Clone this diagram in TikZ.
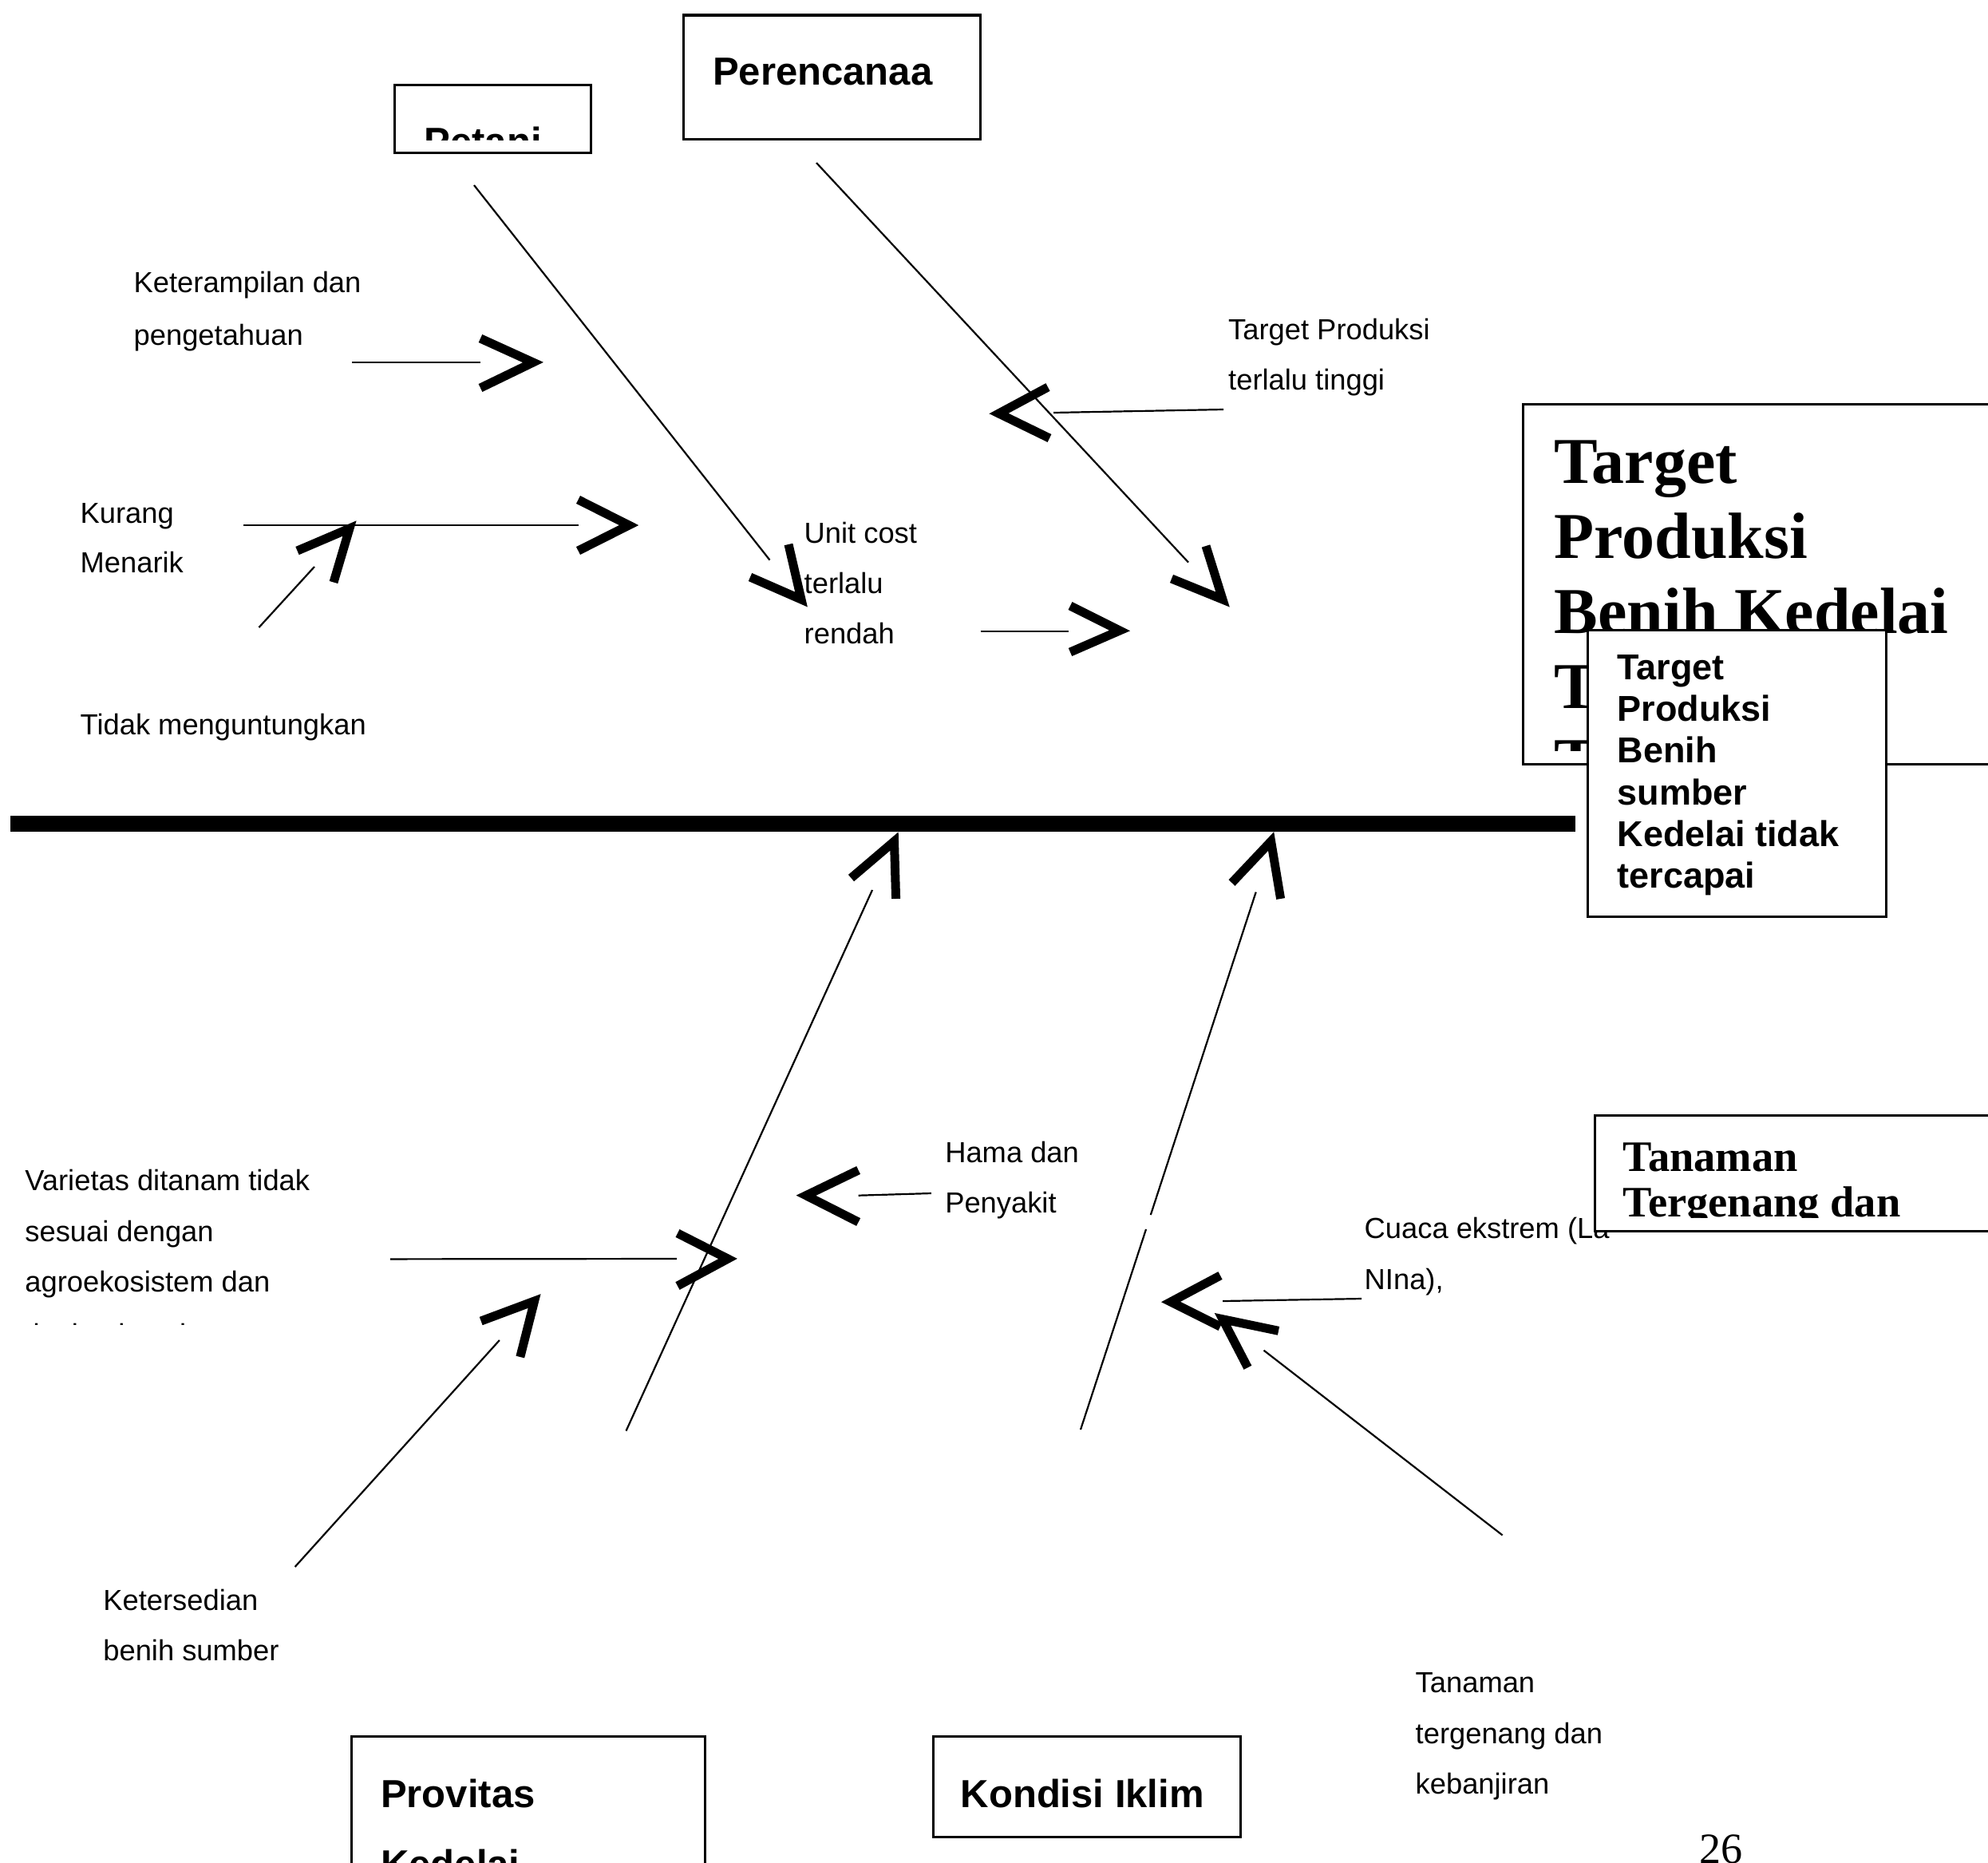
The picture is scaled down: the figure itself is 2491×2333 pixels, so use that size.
\documentclass[tikz,border=0pt]{standalone}
\usepackage{fontspec}
\setmainfont{Liberation Sans}
\newfontfamily\tnr{Liberation Serif}
\begin{document}
\begin{tikzpicture}[x=0.01cm, y=-0.01cm,
  boneline/.style={line width=0.022cm},
  barb/.style={line width=0.11cm, line join=miter, line cap=butt},
  spine/.style={line width=0.2cm},
  box/.style={draw, line width=0.03cm, fill=white, inner sep=0pt, outer sep=0pt, anchor=north west},
  lbl/.style={anchor=base west, inner sep=0pt, font=\fontsize{10.33pt}{12pt}\selectfont},
  ttl/.style={anchor=base west, inner sep=0pt, font=\bfseries\fontsize{13.94pt}{16pt}\selectfont},
  smallttl/.style={anchor=base west, inner sep=0pt, font=\bfseries\fontsize{12.8pt}{15pt}\selectfont},
  bigttl/.style={anchor=base west, inner sep=0pt, font=\tnr\bfseries\fontsize{23.3pt}{27pt}\selectfont},
  tanttl/.style={anchor=base west, inner sep=0pt, font=\tnr\bfseries\fontsize{15.5pt}{18pt}\selectfont},
  pagenum/.style={anchor=base west, inner sep=0pt, font=\tnr\fontsize{15.4pt}{18pt}\selectfont}
]
\useasboundingbox (0,0) rectangle (2491,2333);

% ---------- effect boxes ----------
\node[box, minimum width=6.2cm, minimum height=4.505cm] (bigBox) at (1908,506.5) {};
\begin{scope}
  \clip (1910,508) rectangle (2489,940);
  \node[bigttl] (big1) at (1947,605) {Target};
  \node[bigttl] (big2) at (1947,699) {Produksi};
  \node[bigttl] (big3) at (1947,793) {Benih Kedelai};
  \node[bigttl] (big4) at (1947,887) {Tidak};
  \node[bigttl] (big5) at (1947,981) {Tercapai};
\end{scope}
\node[box, minimum width=3.74cm, minimum height=3.59cm] (headBox) at (1989,789) {};
\node[smallttl] (h1) at (2026,851) {Target};
\node[smallttl] (h2) at (2026,903) {Produksi};
\node[smallttl] (h3) at (2026,955) {Benih};
\node[smallttl] (h4) at (2026,1008) {sumber};
\node[smallttl] (h5) at (2026,1060) {Kedelai tidak};
\node[smallttl] (h6) at (2026,1112) {tercapai};

% ---------- spine ----------
\coordinate (sp1) at (13,1032);
\coordinate (sp2) at (1974,1032);
\draw[spine] (sp1) -- (sp2);

% ---------- category boxes ----------
\node[box, minimum width=2.459cm, minimum height=0.85cm] (petaniBox) at (494.5,106.7) {};
\begin{scope}
  \clip (496,108) rectangle (739,175);
  \node[ttl] (petaniTxt) at (531,194) {Petani};
\end{scope}
\node[box, minimum width=3.72cm, minimum height=1.55cm] (perBox) at (856.7,19) {};
\node[ttl] (perTxt) at (892.4,106) {Perencanaa};
\node[box, minimum width=4.435cm, minimum height=2.0cm] (provBox) at (440,2175.7) {};
\node[ttl] (provTxt1) at (476.5,2264) {Provitas};
\node[ttl] (provTxt2) at (476.5,2352) {Kedelai};
\node[box, minimum width=3.848cm, minimum height=1.26cm] (kondBox) at (1169,2175.7) {};
\node[ttl] (kondTxt) at (1203,2264) {Kondisi Iklim};

% ---------- main bones ----------
\coordinate (pb1) at (594,232);   \coordinate (pb2) at (964.5,701.6);
\draw[boneline] (pb1) -- (pb2);
\draw[barb] (940,723) -- (1004,751) -- (988,682);

\coordinate (rb1) at (1023,204);  \coordinate (rb2) at (1489,704.5);
\draw[boneline] (rb1) -- (rb2);
\draw[barb] (1468,725) -- (1532,751) -- (1511,684);

\coordinate (vb1) at (784.5,1792.6); \coordinate (vb2) at (1093,1115);
\draw[boneline] (vb1) -- (vb2);
\draw[barb] (1066.5,1100) -- (1120.5,1054) -- (1122.6,1126);

\coordinate (kb1) at (1354,1791); \coordinate (kb2) at (1436,1540);
\coordinate (kb3) at (1441.8,1522); \coordinate (kb4) at (1573.7,1117.6);
\draw[boneline] (kb1) -- (kb2) (kb3) -- (kb4);
\draw[barb] (1543.5,1106) -- (1592.6,1054) -- (1604.6,1126);

% ---------- upper causes ----------
\node[lbl] (ket1) at (167,366) {Keterampilan dan};
\node[lbl] (ket2) at (167,432) {pengetahuan};
\coordinate (ka) at (441,454); \coordinate (kz) at (602,454);
\draw[boneline] (ka) -- (kz);
\draw[barb] (602,424) -- (668,454) -- (602,486);

\node[lbl] (kur1) at (100,655) {Kurang};
\node[lbl] (kur2) at (100,717) {Menarik};
\coordinate (ma) at (305,658); \coordinate (mz) at (724.5,658);
\draw[boneline] (ma) -- (mz);
\draw[barb] (724.5,626) -- (788,658) -- (724.5,690);

\node[lbl] (tid) at (100,920) {Tidak menguntungkan};
\coordinate (ta) at (324.5,786); \coordinate (tz) at (394,710);
\draw[boneline] (ta) -- (tz);
\draw[barb] (372.5,690) -- (438,662) -- (418,729.5);

\node[lbl] (tp1) at (1538.5,425) {Target Produksi};
\node[lbl] (tp2) at (1538.5,488) {terlalu tinggi};
\coordinate (pa) at (1533,513); \coordinate (pz) at (1320,517);
\draw[boneline] (pa) -- (pz);
\draw[barb] (1313,485) -- (1251.5,518) -- (1315,549);

\node[lbl] (uc1) at (1007,680) {Unit cost};
\node[lbl] (uc2) at (1007,743) {terlalu};
\node[lbl] (uc3) at (1007,806) {rendah};
\coordinate (ua) at (1228.5,791); \coordinate (uz) at (1339,791);
\draw[boneline] (ua) -- (uz);
\draw[barb] (1341,759) -- (1403,790) -- (1341,817);

% ---------- lower causes ----------
\node[lbl] (hm1) at (1183.6,1456) {Hama dan};
\node[lbl] (hm2) at (1183.6,1519.6) {Penyakit};
\coordinate (ha) at (1166.8,1495); \coordinate (hz) at (1075.6,1497.7);
\draw[boneline] (ha) -- (hz);
\draw[barb] (1075.6,1466) -- (1010,1497.7) -- (1075.6,1531);

\node[lbl] (var1) at (30.7,1491.7) {Varietas ditanam tidak};
\node[lbl] (var2) at (30.7,1555) {sesuai dengan};
\node[lbl] (var3) at (30.7,1618) {agroekosistem dan};
\begin{scope}
  \clip (0,1630) rectangle (400,1659);
  \node[lbl] (var4) at (30.7,1684) {tingkat kesuburan};
\end{scope}
\coordinate (va) at (488.8,1577.4); \coordinate (vz) at (848,1577);
\draw[boneline] (va) -- (vz);
\draw[barb] (849,1545) -- (912,1577) -- (849,1611);

\node[lbl] (ks1) at (128.7,2017) {Ketersedian};
\node[lbl] (ks2) at (128.7,2080) {benih sumber};
\coordinate (sa) at (369.6,1963); \coordinate (sz) at (625.9,1679);
\draw[boneline] (sa) -- (sz);
\draw[barb] (602.7,1655) -- (669.6,1630) -- (651.8,1700);

\node[lbl] (cu1) at (1709,1551.7) {Cuaca ekstrem (La};
\node[lbl] (cu2) at (1709,1615) {NIna),};
\coordinate (ca) at (1706,1627); \coordinate (cz) at (1532,1630);
\draw[boneline] (ca) -- (cz);
\draw[barb] (1529,1598) -- (1467,1631) -- (1529,1662);

\node[lbl] (tn1) at (1773,2120.7) {Tanaman};
\node[lbl] (tn2) at (1773,2184) {tergenang dan};
\node[lbl] (tn3) at (1773,2247) {kebanjiran};
\coordinate (na) at (1882.6,1923.3); \coordinate (nz) at (1583.5,1691.7);
\draw[boneline] (na) -- (nz);
\draw[barb] (1602,1667.3) -- (1532,1652.7) -- (1563.4,1713.3);

% ---------- Tanaman box (over the Cuaca text) ----------
\node[box, minimum width=5.6cm, minimum height=1.45cm] (tanBox) at (1998,1397) {};
\begin{scope}
  \clip (2000,1399) rectangle (2489,1525);
  \node[tanttl] (tb1) at (2033,1467) {Tanaman};
  \node[tanttl] (tb2) at (2033,1524) {Tergenang dan};
\end{scope}

% ---------- page number ----------
\node[pagenum] (pg) at (2129,2334) {26};
\end{tikzpicture}
\end{document}
